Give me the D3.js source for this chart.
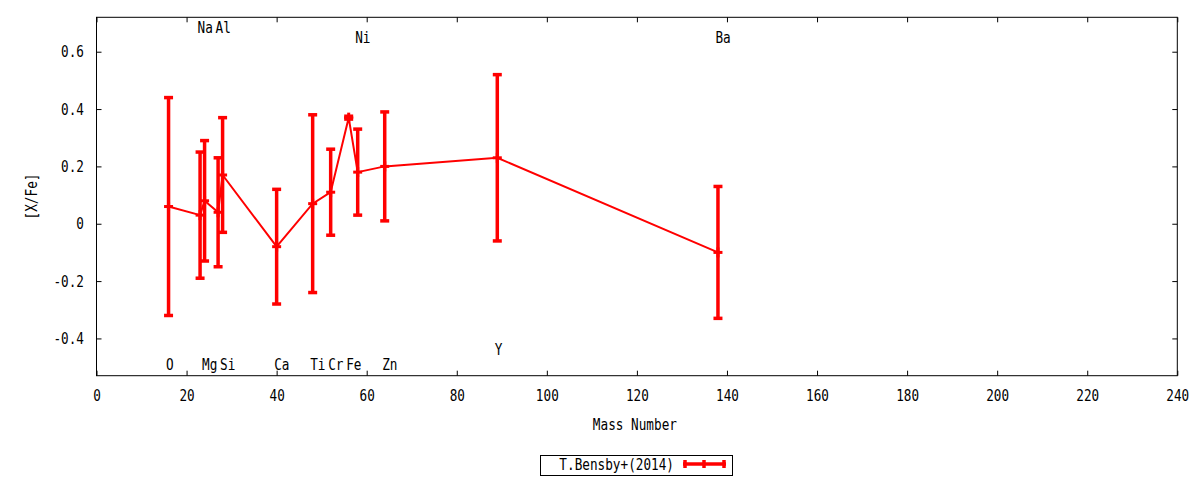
<!DOCTYPE html>
<html>
<head>
<meta charset="utf-8">
<script src="https://cdn.jsdelivr.net/npm/d3@7"></script>
<style>
  body { margin: 0; background: #fff; }
  text { font-family: 'DejaVu Sans Mono', monospace; font-size: 15.5px; fill: #000; }
</style>
</head>
<body>
<div id="chart"></div>
<script>
// abundance pattern, T.Bensby+(2014)
const elements = ['O', 'Na', 'Mg', 'Al', 'Si', 'Ca', 'Ti', 'Cr', 'Fe', 'Ni', 'Zn', 'Y', 'Ba']
const massNumber = [16, 23, 24, 27, 28, 40, 48, 52, 56, 58, 64, 89, 138]
const xfe = [0.06, 0.03, 0.08, 0.04, 0.17, -0.08, 0.07, 0.11, 0.37, 0.18, 0.20, 0.23, -0.10]
const xfeErr = [0.38, 0.22, 0.21, 0.19, 0.20, 0.20, 0.31, 0.15, 0.005, 0.15, 0.19, 0.29, 0.23]
// element labels sit at these [X/Fe] values
const labelAt = [-0.49, 0.685, -0.49, 0.685, -0.49, -0.49, -0.49, -0.49, -0.49, 0.65, -0.49, -0.44, 0.65]
const xTicks = d3.range(0, 241, 20)
const yTicks = [-0.4, -0.2, 0, 0.2, 0.4, 0.6]
const xDomain = [0, 240]
const yDomain = [-0.53, 0.72]
const seriesName = 'T.Bensby+(2014)'

const width = 1200
const height = 480
const margin = {
  'top': 17.3,
  'left': 96.5,
  'right': 22.7,
  'bottom': 104.3
}
const red = '#ff0000'
// the gnuplot font is narrower than DejaVu Sans Mono
const narrow = 0.82

let data = elements.map((el, i) => ({
  el: el,
  x: massNumber[i],
  y: xfe[i],
  err: xfeErr[i],
  ly: labelAt[i]
}))

let squeeze = function (sel) {
  sel.each(function () {
    let t = d3.select(this)
    let x = +t.attr('x') || 0
    t.attr('transform', `matrix(${narrow},0,0,1,${x * (1 - narrow)},0)`)
  })
}

let svg = d3.select('#chart')
  .append('svg')
  .attr('width', width)
  .attr('height', height)

let xScale = d3.scaleLinear().domain(xDomain).range([margin.left, width - margin.right])
let yScale = d3.scaleLinear().domain(yDomain).range([height - margin.bottom, margin.top])
let fmt = d => d === 0 ? '0' : d.toFixed(1)

// axes, ticks point inwards on all four sides
let bottom = svg.append('g')
  .attr('transform', `translate(0, ${yScale.range()[0]})`)
  .call(d3.axisBottom(xScale).tickValues(xTicks).tickSize(-5).tickFormat(d3.format('d')))
bottom.selectAll('text').attr('y', 14).attr('dy', '0.71em')
svg.append('g')
  .attr('transform', `translate(0, ${yScale.range()[1]})`)
  .call(d3.axisTop(xScale).tickValues(xTicks).tickSize(-5).tickFormat(''))
let left = svg.append('g')
  .attr('transform', `translate(${xScale.range()[0]}, 0)`)
  .call(d3.axisLeft(yScale).tickValues(yTicks).tickSize(-5).tickFormat(fmt))
left.selectAll('text').attr('x', -12.5)
svg.append('g')
  .attr('transform', `translate(${xScale.range()[1]}, 0)`)
  .call(d3.axisRight(yScale).tickValues(yTicks).tickSize(-5).tickFormat(''))
svg.selectAll('.domain').remove()
svg.selectAll('.tick line').attr('stroke', '#000')
svg.selectAll('.tick text')
  .style('font-family', "'DejaVu Sans Mono', monospace")
  .style('font-size', '15.5px')
  .attr('fill', '#000')
  .call(squeeze)

svg.append('rect')
  .attr('x', xScale.range()[0])
  .attr('y', yScale.range()[1])
  .attr('width', xScale.range()[1] - xScale.range()[0])
  .attr('height', yScale.range()[0] - yScale.range()[1])
  .attr('fill', 'none')
  .attr('stroke', '#000')

svg.append('text')
  .attr('x', (xScale.range()[0] + xScale.range()[1]) / 2 - 2)
  .attr('y', 430)
  .style('text-anchor', 'middle')
  .text('Mass Number')
  .call(squeeze)
svg.append('text')
  .attr('transform', `translate(36.5, ${yScale(0.095)}) rotate(-90) scale(${narrow}, 1)`)
  .style('text-anchor', 'middle')
  .text('[X/Fe]')

// connecting line
let line = d3.line().x(d => xScale(d.x)).y(d => yScale(d.y))
svg.append('path')
  .datum(data)
  .attr('d', line)
  .attr('fill', 'none')
  .attr('stroke', red)
  .attr('stroke-width', 2)

// error bars with caps
let bars = svg.selectAll('.bar')
  .data(data)
  .enter()
  .append('g')
  .attr('class', 'bar')
  .attr('stroke', red)
  .attr('stroke-width', 3.5)
bars.append('line')
  .attr('x1', d => xScale(d.x))
  .attr('x2', d => xScale(d.x))
  .attr('y1', d => yScale(d.y - d.err))
  .attr('y2', d => yScale(d.y + d.err))
bars.append('line')
  .attr('x1', d => xScale(d.x) - 4.5)
  .attr('x2', d => xScale(d.x) + 4.5)
  .attr('y1', d => yScale(d.y + d.err))
  .attr('y2', d => yScale(d.y + d.err))
bars.append('line')
  .attr('x1', d => xScale(d.x) - 4.5)
  .attr('x2', d => xScale(d.x) + 4.5)
  .attr('y1', d => yScale(d.y - d.err))
  .attr('y2', d => yScale(d.y - d.err))
// plus marker at the point
bars.append('line')
  .attr('x1', d => xScale(d.x) - 4.5)
  .attr('x2', d => xScale(d.x) + 4.5)
  .attr('y1', d => yScale(d.y))
  .attr('y2', d => yScale(d.y))
  .attr('stroke-width', 3)
bars.append('line')
  .attr('x1', d => xScale(d.x))
  .attr('x2', d => xScale(d.x))
  .attr('y1', d => yScale(d.y) - 5)
  .attr('y2', d => yScale(d.y) + 5)
  .attr('stroke-width', 3)

// element labels
svg.selectAll('.elabel')
  .data(data)
  .enter()
  .append('text')
  .attr('class', 'elabel')
  .attr('x', d => xScale(d.x) - 2.5)
  .attr('y', d => yScale(d.ly))
  .attr('dy', '0.35em')
  .style('text-anchor', 'start')
  .text(d => d.el)
  .call(squeeze)

// legend
let legend = svg.append('g')
legend.append('rect')
  .attr('x', 540.5)
  .attr('y', 455.5)
  .attr('width', 192)
  .attr('height', 20)
  .attr('fill', 'none')
  .attr('stroke', '#000')
legend.append('text')
  .attr('x', 674)
  .attr('y', 465)
  .attr('dy', '0.35em')
  .style('text-anchor', 'end')
  .text(seriesName)
  .call(squeeze)
let key = legend.append('g').attr('stroke', red)
key.append('line')
  .attr('x1', 683).attr('x2', 726)
  .attr('y1', 464).attr('y2', 464)
  .attr('stroke-width', 3.5)
;[685, 704, 724].forEach(x => {
  key.append('line')
    .attr('x1', x).attr('x2', x)
    .attr('y1', 460).attr('y2', 468)
    .attr('stroke-width', 3.5)
})
</script>
</body>
</html>
